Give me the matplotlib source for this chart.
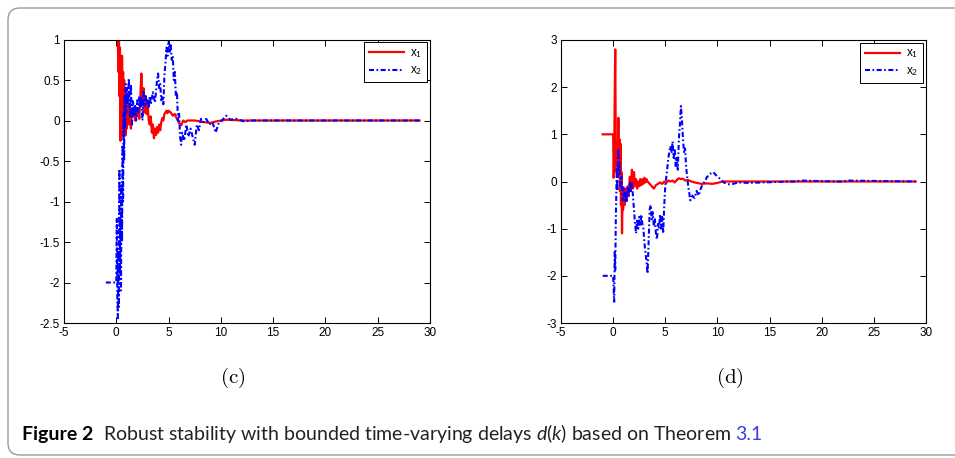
import matplotlib
matplotlib.use('Agg')
import matplotlib.pyplot as plt
from matplotlib.patches import FancyBboxPatch
from matplotlib.transforms import IdentityTransform

plt.rcParams['font.family'] = ['Liberation Sans', 'DejaVu Sans']
plt.rcParams['mathtext.fontset'] = 'custom'
plt.rcParams['mathtext.rm'] = 'Lato'
plt.rcParams['mathtext.it'] = 'Lato:italic'
plt.rcParams['mathtext.bf'] = 'Lato:bold'

# ---- panel (c) ----
t_c1 = [-0.8, 0.0, 0.1, 0.2, 0.25, 0.3, 0.35, 0.4, 0.45, 0.5, 0.55, 0.6, 0.65, 0.7, 0.75,
        0.8, 0.85, 0.9, 0.95, 1.0, 1.1, 1.2, 1.3, 1.4, 1.5, 1.6, 1.7, 1.8, 1.9, 2.0,
        2.1, 2.2, 2.3, 2.4, 2.5, 2.6, 2.7, 2.8, 2.9, 3.0, 3.1, 3.2, 3.3, 3.4, 3.5,
        3.6, 3.7, 3.8, 3.9, 4.0, 4.1, 4.2, 4.3, 4.4, 4.5, 4.6, 4.7, 4.8, 4.9, 5.0,
        5.2, 5.4, 5.6, 5.8, 6.0, 6.2, 6.4, 6.6, 6.8, 7.5, 8.4, 9.0, 9.6, 10.5, 12.0,
        15.0, 20.0, 25.0, 29.0]
x1_c = [1.0, 1.0, 1.4, 0.6, 1.2, 0.3, 0.9, -0.25, 0.7, -0.1, 0.8, 0.2, 0.6, -0.2, 0.5,
        0.0, 0.4, -0.18, 0.3, -0.1, 0.25, -0.05, 0.2, -0.1, 0.15, 0.05, 0.15, 0.0, 0.12, 0.05,
        0.15, 0.02, 0.3, 0.58, 0.2, 0.4, 0.1, 0.3, 0.08, 0.2, 0.0, -0.05, 0.05, -0.15, -0.05,
        -0.22, -0.1, -0.18, -0.08, -0.15, -0.05, -0.12, -0.02, 0.03, 0.0, 0.08, 0.1, 0.12, 0.09, 0.12,
        0.1, 0.06, 0.08, 0.02, -0.03, -0.06, 0.0, -0.02, 0.0, 0.0, -0.02, -0.03, -0.01, 0.01, 0.0,
        0.0, 0.0, 0.0, 0.0]

t_c2 = [-1.0, -0.5, 0.0, 0.05, 0.1, 0.15, 0.2, 0.25, 0.3, 0.35, 0.4, 0.45, 0.5, 0.55, 0.6,
        0.65, 0.7, 0.75, 0.8, 0.85, 0.9, 0.95, 1.0, 1.1, 1.2, 1.3, 1.4, 1.5, 1.6, 1.7,
        1.8, 1.9, 2.0, 2.1, 2.2, 2.3, 2.4, 2.5, 2.6, 2.7, 2.8, 2.9, 3.0, 3.1, 3.2,
        3.3, 3.5, 3.7, 3.9, 4.0, 4.1, 4.2, 4.3, 4.4, 4.5, 4.6, 4.7, 4.8, 4.9, 5.0,
        5.1, 5.2, 5.3, 5.4, 5.5, 5.6, 5.7, 5.8, 5.9, 6.0, 6.1, 6.2, 6.3, 6.5, 6.7,
        6.9, 7.1, 7.3, 7.5, 7.7, 7.9, 8.1, 8.3, 8.6, 8.9, 9.2, 9.5, 9.8, 10.1, 10.5,
        10.9, 11.5, 12.2, 13.0, 20.0, 29.0]
x2_c = [-2.0, -2.0, -2.0, -1.2, -2.2, -2.44, -1.6, -2.3, -0.6, -1.9, -1.2, -2.1, -0.8, -1.5, -0.3,
        -1.0, 0.1, -0.5, 0.3, -0.1, 0.45, 0.1, 0.4, 0.2, 0.52, 0.05, 0.45, -0.05, 0.25, 0.05,
        0.2, 0.0, 0.25, 0.1, 0.3, 0.15, 0.3, 0.0, 0.35, 0.18, 0.3, 0.2, 0.25, 0.15, 0.3,
        0.2, 0.35, 0.22, 0.5, 0.58, 0.4, 0.45, 0.25, 0.3, 0.2, 0.55, 0.7, 0.9, 0.8, 1.0,
        0.85, 0.95, 0.75, 0.8, 0.5, 0.6, 0.3, 0.35, 0.0, 0.1, -0.2, -0.3, -0.15, -0.25, -0.05,
        -0.2, -0.1, -0.2, -0.3, -0.05, -0.12, 0.02, -0.02, 0.02, -0.05, -0.02, -0.15, -0.03, 0.0, 0.06,
        0.01, 0.02, -0.01, 0.0, 0.0, 0.0]

# ---- panel (d) ----
t_d1 = [-1.0, 0.0, 0.05, 0.1, 0.15, 0.2, 0.25, 0.3, 0.35, 0.4, 0.45, 0.5, 0.55, 0.6, 0.65,
        0.7, 0.75, 0.8, 0.85, 0.9, 0.95, 1.0, 1.1, 1.2, 1.3, 1.4, 1.5, 1.6, 1.7, 1.8,
        1.9, 2.0, 2.1, 2.2, 2.3, 2.4, 2.5, 2.6, 2.7, 2.8, 2.9, 3.0, 3.1, 3.2, 3.3,
        3.5, 3.7, 3.9, 4.1, 4.3, 4.5, 4.7, 4.9, 5.1, 5.3, 5.5, 5.7, 5.9, 6.1, 6.3,
        6.5, 6.7, 6.9, 7.2, 7.5, 8.0, 8.5, 9.0, 9.5, 10.0, 10.5, 12.0, 15.0, 20.0, 29.0]
x1_d = [1.0, 1.0, 0.08, 0.5, 1.8, 2.8, 0.9, 0.2, 0.8, 0.1, 0.5, 1.35, 0.3, 0.9, -0.2,
        0.8, -0.5, 0.2, -1.1, -0.3, -0.6, -0.2, -0.5, -0.15, -0.4, -0.1, -0.3, 0.1, -0.2, 0.25,
        -0.15, 0.2, -0.1, 0.05, -0.15, 0.0, -0.1, 0.05, -0.08, 0.05, -0.05, 0.08, -0.02, 0.05, 0.0,
        -0.05, -0.1, -0.15, -0.08, -0.05, -0.02, -0.05, 0.0, -0.03, 0.02, 0.0, 0.02, -0.02, 0.03, 0.07,
        0.05, 0.06, 0.02, 0.03, 0.0, -0.03, -0.05, -0.04, -0.05, -0.03, 0.0, 0.0, 0.0, 0.0, 0.0]

t_d2 = [-1.0, -0.5, 0.0, 0.1, 0.15, 0.2, 0.25, 0.3, 0.35, 0.4, 0.45, 0.5, 0.55, 0.6, 0.7,
        0.8, 0.9, 1.0, 1.1, 1.2, 1.3, 1.4, 1.5, 1.6, 1.7, 1.8, 1.9, 2.0, 2.1, 2.2,
        2.3, 2.4, 2.5, 2.6, 2.7, 2.8, 2.9, 3.0, 3.1, 3.2, 3.3, 3.4, 3.5, 3.6, 3.7,
        3.8, 3.9, 4.0, 4.1, 4.2, 4.3, 4.4, 4.5, 4.6, 4.7, 4.8, 4.9, 5.0, 5.1, 5.2,
        5.3, 5.4, 5.5, 5.6, 5.7, 5.8, 5.9, 6.0, 6.1, 6.2, 6.3, 6.4, 6.5, 6.6, 6.7,
        6.8, 6.9, 7.0, 7.1, 7.2, 7.3, 7.4, 7.6, 7.8, 8.0, 8.2, 8.4, 8.6, 8.8, 9.0,
        9.2, 9.4, 9.6, 9.8, 10.0, 10.3, 10.6, 11.0, 11.5, 12.0, 13.0, 17.0, 17.5, 18.0, 21.5,
        22.0, 22.5, 29.0]
x2_d = [-2.0, -2.0, -2.0, -2.55, -1.5, -1.9, -0.9, -0.3, 0.3, -0.2, 0.5, 0.7, 0.2, 0.4, -0.1,
        0.1, -0.4, -0.1, -0.4, -0.2, -0.45, -0.1, -0.3, 0.0, -0.2, -0.05, -0.3, -0.6, -0.9, -1.1,
        -0.8, -1.0, -0.75, -0.95, -0.7, -0.9, -1.0, -1.3, -1.5, -1.7, -1.95, -1.3, -0.6, -0.5, -0.8,
        -0.65, -0.95, -0.8, -1.1, -1.23, -0.9, -1.0, -0.7, -1.0, -0.75, -1.1, -0.5, -0.1, 0.1, 0.3,
        0.5, 0.65, 0.75, 0.6, 0.85, 0.5, 0.7, 0.3, 0.5, 0.25, 0.9, 1.2, 1.6, 1.3, 0.9,
        0.6, 0.7, 0.3, 0.1, -0.1, -0.25, -0.4, -0.3, -0.35, -0.2, -0.3, -0.15, -0.05, 0.0, 0.1,
        0.12, 0.18, 0.2, 0.15, 0.1, 0.05, -0.02, -0.06, -0.05, -0.02, -0.03, 0.0, 0.0, 0.02, 0.0,
        0.0, 0.02, 0.0]

x_ticks = [-5, 0, 5, 10, 15, 20, 25, 30]
y_ticks_c = [-2.5, -2, -1.5, -1, -0.5, 0, 0.5, 1]
y_labels_c = ['-2.5', '-2', '-1.5', '-1', '-0.5', '0', '0.5', '1']
y_ticks_d = [-3, -2, -1, 0, 1, 2, 3]
y_labels_d = ['-3', '-2', '-1', '0', '1', '2', '3']


def draw_panel(ax, t1, v1, t2, v2, yticks, ylabels):
    ax.plot(t1, v1, color='red', lw=1.6, label='x$_1$')
    ax.plot(t2, v2, color='blue', lw=1.5, dashes=(2.4, 1.2, 0.8, 1.2), label='x$_2$')
    ax.set_xlim(-5, 30)
    ax.set_ylim(yticks[0], yticks[-1])
    ax.set_xticks(x_ticks)
    ax.set_xticklabels([str(v) for v in x_ticks])
    ax.set_yticks(yticks)
    ax.set_yticklabels(ylabels)
    ax.tick_params(direction='in', top=True, right=True, length=4, width=0.7,
                   labelsize=8.5, pad=3)
    for s in ax.spines.values():
        s.set_linewidth(0.8)
    leg = ax.legend(loc='upper right', fontsize=8.5, fancybox=False, edgecolor='black',
                    framealpha=1, handlelength=3.0, borderaxespad=0.25,
                    borderpad=0.4, labelspacing=0.4, handletextpad=0.5)
    leg.get_frame().set_linewidth(0.7)


fig = plt.figure(figsize=(9.55, 4.58), dpi=100)
W, H = 955, 458
ax_c = fig.add_axes([64 / W, 1 - 323 / H, 366 / W, 283.5 / H])
ax_d = fig.add_axes([561 / W, 1 - 323 / H, 365 / W, 283 / H])
draw_panel(ax_c, t_c1, x1_c, t_c2, x2_c, y_ticks_c, y_labels_c)
draw_panel(ax_d, t_d1, x1_d, t_d2, x2_d, y_ticks_d, y_labels_d)

fig.text(233 / W, 1 - 378 / H, r'$\mathrm{(c)}$', ha='center', va='center',
         fontsize=15, math_fontfamily='cm')
fig.text(730 / W, 1 - 378 / H, r'$\mathrm{(d)}$', ha='center', va='center',
         fontsize=15, math_fontfamily='cm')

# rounded frame around the figure
frame = FancyBboxPatch((8, 3), 970, 447, boxstyle='round,pad=0,rounding_size=12',
                       transform=IdentityTransform(), fill=False,
                       edgecolor='#9a9a9a', lw=1.0)
fig.patches.append(frame)

# caption
r = fig.canvas.get_renderer()
cap_y = 1 - 440 / H
fs = 14
t1 = fig.text(22 / W, cap_y, 'Figure 2', fontsize=fs, weight='bold', family='Lato',
              va='baseline')
x = 22 + t1.get_window_extent(r).width + 10
t2 = fig.text(x / W, cap_y, 'Robust stability with bounded time-varying delays $d(k)$ based on Theorem',
              fontsize=fs, family='Lato', va='baseline', color='#222222')
x = x + t2.get_window_extent(r).width + 4
fig.text(x / W, cap_y, '3.1', fontsize=fs, family='Lato', va='baseline', color='#3b3bf0')

fig.savefig('out.png', dpi=100)
